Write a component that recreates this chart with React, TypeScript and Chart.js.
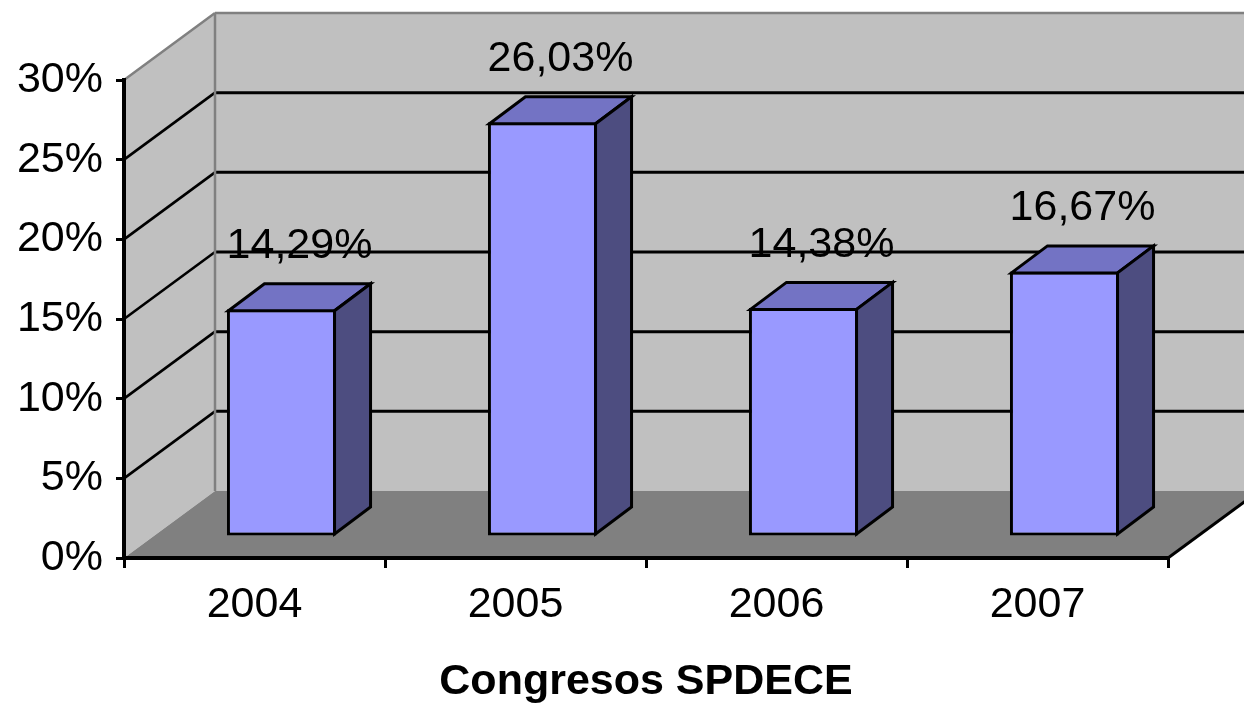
import React, { useEffect, useRef } from "react";
import { Chart, registerables } from "chart.js";

Chart.register(...registerables);

// ---- data ----
const categories = ["2004", "2005", "2006", "2007"];
const values = [14.29, 26.03, 14.38, 16.67];
const yMin = 0;
const yMax = 30;
const yStep = 5;
const axisTitle = "Congresos SPDECE";

// ---- 3D geometry (layout only) ----
const WALL_DX = 91;
const WALL_DY = -67;
const BAR_OFF_X = 27;
const BAR_OFF_Y = -21;
const BAR_DX = 36;
const BAR_DY = -27;
const FONT = "'Liberation Sans', Arial, sans-serif";

const fmt = (v: number) => v.toFixed(2).replace(".", ",") + "%";

const threeD = {
  id: "threeD",
  beforeDraw(chart: any) {
    const { ctx, chartArea, scales } = chart;
    const ys = scales.y;
    const L = chartArea.left;
    const R = chartArea.right;
    const T = chartArea.top;
    const B = chartArea.bottom;
    const W = chart.width;
    const bx = L + WALL_DX;
    ctx.save();
    // side wall
    ctx.fillStyle = "#C0C0C0";
    ctx.beginPath();
    ctx.moveTo(L, T);
    ctx.lineTo(bx, T + WALL_DY);
    ctx.lineTo(bx, B + WALL_DY);
    ctx.lineTo(L, B);
    ctx.closePath();
    ctx.fill();
    // back wall
    ctx.fillRect(bx, T + WALL_DY, W - bx, B - T);
    // floor
    ctx.fillStyle = "#808080";
    ctx.beginPath();
    ctx.moveTo(L, B);
    ctx.lineTo(R, B);
    ctx.lineTo(R + WALL_DX, B + WALL_DY);
    ctx.lineTo(W + 50, B + WALL_DY);
    ctx.lineTo(bx, B + WALL_DY);
    ctx.closePath();
    ctx.fill();
    // floor right edge
    ctx.strokeStyle = "#000";
    ctx.lineWidth = 3;
    ctx.beginPath();
    ctx.moveTo(R, B);
    ctx.lineTo(R + WALL_DX, B + WALL_DY);
    ctx.stroke();
    // gridlines on walls
    ys.ticks.forEach((t: any) => {
      if (t.value === yMin) return;
      const py = ys.getPixelForValue(t.value);
      const top = t.value === yMax;
      ctx.strokeStyle = top ? "#808080" : "#000";
      ctx.lineWidth = top ? 2.5 : 2.6;
      ctx.beginPath();
      ctx.moveTo(L, py);
      ctx.lineTo(bx, py + WALL_DY);
      ctx.stroke();
      ctx.lineWidth = top ? 2.5 : 3;
      ctx.beginPath();
      ctx.moveTo(bx, py + WALL_DY);
      ctx.lineTo(W + 10, py + WALL_DY);
      ctx.stroke();
    });
    // back corner
    ctx.strokeStyle = "#808080";
    ctx.lineWidth = 2.5;
    ctx.beginPath();
    ctx.moveTo(bx, T + WALL_DY);
    ctx.lineTo(bx, B + WALL_DY);
    ctx.stroke();
    ctx.restore();
  },
  beforeDatasetsDraw(chart: any) {
    chart.ctx.save();
    chart.ctx.translate(BAR_OFF_X, BAR_OFF_Y);
  },
  afterDatasetsDraw(chart: any) {
    const ctx = chart.ctx;
    ctx.restore();
    const meta = chart.getDatasetMeta(0);
    ctx.save();
    ctx.lineJoin = "miter";
    meta.data.forEach((bar: any, i: number) => {
      const p = bar.getProps(["x", "y", "base", "width"], true);
      const l = p.x - p.width / 2 + BAR_OFF_X;
      const r = p.x + p.width / 2 + BAR_OFF_X;
      const t = p.y + BAR_OFF_Y;
      const b = p.base + BAR_OFF_Y;
      // top face
      ctx.fillStyle = "#7373C4";
      ctx.beginPath();
      ctx.moveTo(l + 1.5, t + 1.5);
      ctx.lineTo(l + 1.5 + BAR_DX, t + 1.5 + BAR_DY);
      ctx.lineTo(r - 1.5 + BAR_DX, t + 1.5 + BAR_DY);
      ctx.lineTo(r - 1.5, t + 1.5);
      ctx.closePath();
      ctx.fill();
      ctx.strokeStyle = "#000";
      ctx.lineWidth = 3;
      ctx.stroke();
      // side face
      ctx.fillStyle = "#4D4D80";
      ctx.beginPath();
      ctx.moveTo(r - 1.5, t + 1.5);
      ctx.lineTo(r - 1.5 + BAR_DX, t + 1.5 + BAR_DY);
      ctx.lineTo(r - 1.5 + BAR_DX, b - 1.5 + BAR_DY);
      ctx.lineTo(r - 1.5, b - 1.5);
      ctx.closePath();
      ctx.fill();
      ctx.stroke();
      // value label
      ctx.fillStyle = "#000";
      ctx.font = `43px ${FONT}`;
      ctx.textAlign = "center";
      ctx.textBaseline = "alphabetic";
      ctx.fillText(fmt(values[i]), p.x + BAR_OFF_X + BAR_DX / 2, t + BAR_DY - 24);
    });
    ctx.restore();
  },
};

export default function App() {
  const ref = useRef<HTMLCanvasElement>(null);
  useEffect(() => {
    const chart = new Chart(ref.current as HTMLCanvasElement, {
      type: "bar",
      data: {
        labels: categories,
        datasets: [
          {
            data: values,
            backgroundColor: "#9999FF",
            borderColor: "#000000",
            borderWidth: 3,
            borderSkipped: false,
            categoryPercentage: 1,
            barPercentage: 0.418,
            clip: false as any,
          },
        ],
      },
      options: {
        responsive: false,
        animation: false,
        devicePixelRatio: 1,
        layout: { padding: { left: 0, right: 76, top: 80, bottom: 0 } },
        plugins: { legend: { display: false }, tooltip: { enabled: false } },
        scales: {
          x: {
            grid: {
              display: true,
              drawOnChartArea: false,
              drawTicks: true,
              tickLength: 10,
              tickWidth: 3,
              lineWidth: 3,
              color: "#000",
              tickColor: "#000",
              offset: true,
            },
            border: { display: true, color: "#000", width: 4 },
            ticks: { color: "#000", font: { family: FONT, size: 43 }, padding: 11, maxRotation: 0, autoSkip: false },
            title: {
              display: true,
              text: axisTitle,
              color: "#000",
              font: { family: FONT, size: 43, weight: "bold" },
              padding: { top: 0, bottom: 0 },
            },
            afterFit: (s: any) => {
              s.height = 150;
            },
          },
          y: {
            min: yMin,
            max: yMax,
            grid: {
              display: true,
              drawOnChartArea: false,
              drawTicks: true,
              tickLength: 8,
              tickWidth: 3,
              lineWidth: 3,
              color: "#000",
              tickColor: "#000",
            },
            border: { display: true, color: "#000", width: 4 },
            ticks: {
              stepSize: yStep,
              color: "#000",
              font: { family: FONT, size: 43 },
              padding: 13,
              callback: (v: any) => v + "%",
            },
            afterFit: (s: any) => {
              s.width = 124;
            },
          },
        },
      },
      plugins: [threeD as any],
    });
    return () => chart.destroy();
  }, []);
  return (
    <div style={{ position: "fixed", left: 0, top: 0, width: 1244, height: 708, background: "#fff" }}>
      <canvas ref={ref} width={1244} height={708} style={{ display: "block", width: 1244, height: 708 }} />
    </div>
  );
}
